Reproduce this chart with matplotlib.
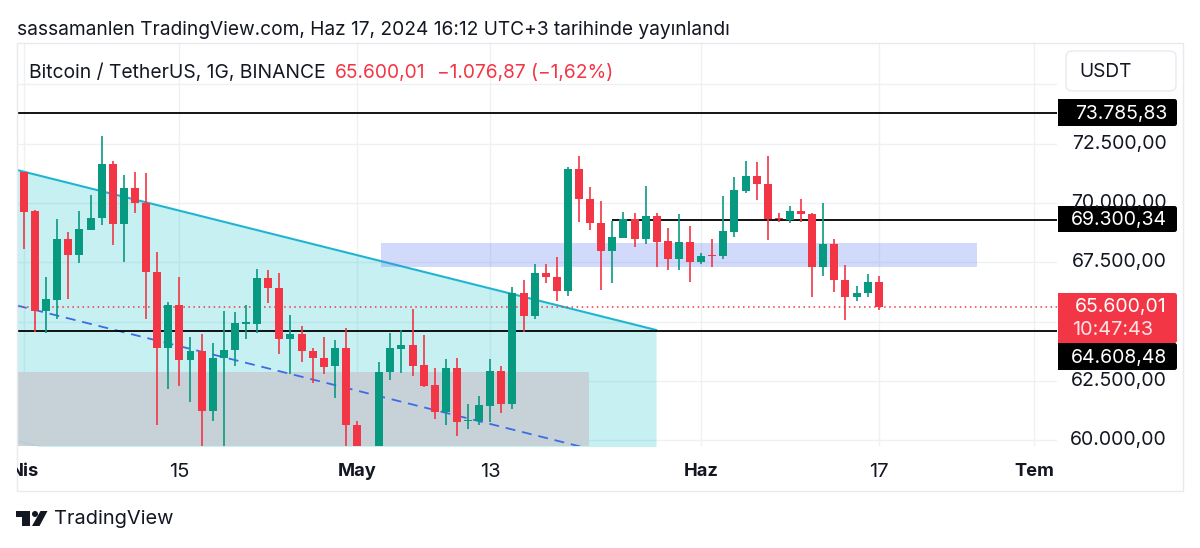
import matplotlib
matplotlib.use("Agg")
from matplotlib import pyplot as plt
from matplotlib.patches import FancyBboxPatch, Rectangle, Circle, Polygon
from matplotlib.transforms import Affine2D, Bbox, TransformedBbox

plt.rcParams['font.family'] = ['Inter', 'DejaVu Sans']

UP = '#089981'
DOWN = '#F23645'
INK = '#131722'
GRID = '#EEF0F3'

# daily candles, first one is Mar 31 (day -1), Apr 1 is day 0
opens = [69663, 71287, 69660, 65465, 65914, 68495, 67808, 68874, 69365, 71624,
         69127, 70628, 70011, 67092, 63908, 65689, 63402, 63781, 61256, 63473,
         63809, 64918, 64918, 66826, 66419, 64272, 64483, 63781, 63473, 63122,
         63879, 60667, 58363, 59163, 62883, 63866, 64006, 63164, 62322, 61186,
         63066, 60807, 60807, 61466, 62925, 61550, 66208, 65226, 67036, 66896,
         66278, 71442, 70151, 69169, 67962, 68537, 69323, 68467, 69435, 68383,
         67625, 68355, 67513, 67822, 67766, 68776, 70501, 71119, 70796, 69379,
         69281, 69646, 69547, 67289, 68256, 66755, 66040, 66208, 66657]
highs = [71429, 71315, 69702, 66896, 69309, 68762, 69674, 70333, 72817, 71750,
         71175, 71315, 71245, 67920, 65844, 66868, 64357, 64483, 64118, 65451,
         65395, 65703, 67233, 67176, 67064, 65297, 64834, 63908, 64357, 64230,
         64721, 60821, 59363, 63318, 64511, 64651, 65521, 64427, 63038, 63430,
         63473, 61522, 61887, 63430, 63136, 66447, 66756, 67443, 67415, 67724,
         71498, 71989, 70656, 70081, 69239, 69603, 69561, 70698, 69575, 68930,
         69519, 69028, 67906, 68467, 70291, 71077, 71750, 71722, 71989, 69575,
         69856, 70179, 69575, 69982, 68467, 67373, 66503, 66994, 66910]
lows = [69567, 68060, 64581, 64511, 65100, 65956, 67457, 68846, 69057, 68229,
        67527, 69590, 65114, 60653, 62154, 62294, 61621, 59263, 60807, 59063,
        63122, 64287, 64511, 65802, 63627, 62799, 63318, 62406, 62799, 61803,
        59063, 56663, 56963, 58863, 62546, 62855, 62715, 62266, 60919, 60639,
        60203, 60499, 60639, 60793, 61143, 61326, 64581, 65128, 66615, 65872,
        66082, 69211, 68860, 66349, 66615, 68509, 68130, 68285, 67289, 67162,
        67162, 66685, 67443, 67289, 67625, 68579, 70403, 70123, 68439, 69183,
        69155, 69183, 66054, 66924, 66250, 65072, 65858, 66054, 65493]
closes = [71363, 69632, 65465, 65942, 68495, 67808, 68888, 69379, 71624, 69127,
          70628, 70011, 67092, 63908, 65689, 63402, 63781, 61256, 63473, 63809,
          64932, 64974, 66826, 66405, 64287, 64497, 63767, 63459, 63108, 63879,
          60653, 58363, 59163, 62897, 63879, 64006, 63150, 62294, 61186, 63066,
          60779, 60863, 61480, 62925, 61550, 66208, 65226, 67036, 66896, 66278,
          71442, 70151, 69169, 67962, 68551, 69323, 68467, 69435, 68369, 67625,
          68355, 67527, 67780, 67780, 68804, 70529, 71119, 70782, 69323, 69337,
          69646, 69547, 67289, 68256, 66755, 66040, 66222, 66657, 65600]

days = list(range(-1, len(closes) - 1))

y_ticks = [60000, 62500, 65000, 67500, 70000, 72500, 75000]
y_labels = [60000, 62500, 67500, 70000, 72500]
time_ticks = [0, 14, 30, 42, 61, 77, 91]
time_labels = ['Nis', '15', 'May', '13', 'Haz', '17', 'Tem']
time_bold = [True, False, True, False, True, False, True]

levels = [73785.83, 69300.34, 64608.48]
level_starts = [-0.63, 53, -0.63]
last_price = 65600.01

x_range = (-0.63, 93.06)
y_range = (59768, 76731)
channel_days = [-0.63, 56.94]
channel_top = [71385, 64651]
channel_bottom = [59979, 53245]
gray_box = (-0.63, 50.9, 59768, 62896)
blue_box = (32.16, 85.86, 67315, 68325)

fig = plt.figure(figsize=(12, 5.48), dpi=100, facecolor='white')
pix = Affine2D().scale(1, -1).translate(0, 548)

ax = fig.add_axes([17 / 1200, (548 - 446) / 548, 1040 / 1200, 403 / 548])
ax.set_xlim(*x_range)
ax.set_ylim(*y_range)
for s in ax.spines.values():
    s.set_visible(False)
ax.tick_params(left=False, bottom=False, labelleft=False, labelbottom=False)
ax.set_xticks(time_ticks)
ax.set_yticks(y_ticks)
ax.grid(True, color=GRID, lw=1)
ax.set_axisbelow(True)

# drawings
ax.fill_between(channel_days, channel_top, channel_bottom, color='#22C4D0', alpha=0.25, lw=0, zorder=2)
ax.plot(channel_days, channel_top, color='#1FB5CF', lw=1.5, zorder=3)
ax.plot(channel_days, channel_bottom, color='#1FB5CF', lw=1.5, zorder=3)
channel_mid = [(a + b) / 2 for a, b in zip(channel_top, channel_bottom)]
ax.add_patch(Rectangle((gray_box[0], gray_box[2]), gray_box[1] - gray_box[0], gray_box[3] - gray_box[2],
                       color='#C8CFD6', alpha=0.92, lw=0, zorder=3))
ax.plot(channel_days, channel_mid, color='#3D6BE5', lw=1.3, ls=(0, (5.5, 3.8)), zorder=4)
ax.add_patch(Rectangle((blue_box[0], blue_box[2]), blue_box[1] - blue_box[0], blue_box[3] - blue_box[2],
                       color='#5B7CF0', alpha=0.28, lw=0, zorder=3))

for level, start in zip(levels, level_starts):
    ax.plot([start, x_range[1]], [level, level], color='black', lw=1.3, zorder=5, solid_capstyle='butt')
ax.axhline(last_price, color=DOWN, lw=1.1, ls=(0, (1, 2.3)), zorder=5)

# candles
colors = [UP if c >= o else DOWN for o, c in zip(opens, closes)]
ax.vlines(days, lows, highs, colors=colors, lw=1.2, zorder=6)
ax.bar(days, [abs(c - o) for o, c in zip(opens, closes)], bottom=[min(o, c) for o, c in zip(opens, closes)],
       width=0.72, color=colors, lw=0, zorder=7)

# frame
fig.add_artist(Rectangle((17, 43), 1166, 448, transform=pix, fill=False, ec='#E9EAEE', lw=1))

# header
fig.text(17, 30, 'sassamanlen TradingView.com, Haz 17, 2024 16:12 UTC+3 tarihinde yayınlandı',
         transform=pix, fontsize=13.8, color=INK, va='center')
fig.text(29, 73, 'Bitcoin / TetherUS, 1G, BINANCE', transform=pix, fontsize=13.9, color=INK, va='center')
fig.text(335, 73, '65.600,01', transform=pix, fontsize=13.8, color=DOWN, va='center')
fig.text(437, 73, '−1.076,87 (−1,62%)', transform=pix, fontsize=13.8, color=DOWN, va='center')

# price scale
def fmt(p):
    return f'{p:,.2f}'.replace(',', 'X').replace('.', ',').replace('X', '.')

def price_y(p):
    return 548 - ax.transData.transform((0, p))[1]

for price in y_labels:
    fig.text(1167, price_y(price), fmt(price), transform=pix, fontsize=14, color=INK, va='center', ha='right')

fig.add_artist(FancyBboxPatch((1066, 51), 110, 40, boxstyle='round,pad=0,rounding_size=6', transform=pix,
                              fc='white', ec='#E8EAF0', lw=1))
fig.text(1079, 72, 'USDT', transform=pix, fontsize=13.8, color=INK, va='center')


def price_box(y0, y1, color):
    fig.add_artist(FancyBboxPatch((1058, y0), 119, y1 - y0, boxstyle='round,pad=0,rounding_size=2.5', transform=pix,
                                  fc=color, ec='none'))
    fig.add_artist(Rectangle((1058, y0), 10, y1 - y0, transform=pix, fc=color, ec='none'))


price_box(99, 126, 'black')
price_box(206, 232, 'black')
price_box(293, 343, DOWN)
price_box(343, 370, 'black')
box_text_y = [113.5, 220, 357.5]
for level, y in zip(levels, box_text_y):
    t = fig.text(1167, y, fmt(level), transform=pix, fontsize=14, color='white', va='center', ha='right')
    t.set_zorder(5)
fig.text(1167, 307, fmt(last_price), transform=pix, fontsize=14, color='white', va='center', ha='right', zorder=5)
fig.text(1072, 330, '10:47:43', transform=pix, fontsize=14.3, color='#FFE3E5', va='center', zorder=5)

# time scale
clip = TransformedBbox(Bbox([[17 / 1200, 0], [1, 1]]), fig.transFigure)
for day, label, bold in zip(time_ticks, time_labels, time_bold):
    x = ax.transData.transform((day, 60000))[0]
    t = fig.text(x, 472, label, transform=pix, fontsize=13.2 if bold else 14.5, color=INK, va='center', ha='center',
                 fontweight='bold' if bold else 'normal')
    t.set_clip_box(clip)
    t.set_clip_on(True)

# logo
fig.add_artist(Polygon([(16, 511), (30, 511), (30, 526), (22, 526), (22, 517), (16, 517)], transform=pix, fc=INK, ec='none'))
fig.add_artist(Circle((35, 514), 3, transform=pix, fc=INK, ec='none'))
fig.add_artist(Polygon([(40.5, 511), (47.5, 511), (39.5, 526), (32, 526)], transform=pix, fc=INK, ec='none'))
fig.text(54, 519.5, 'TradingView', transform=pix, fontsize=14.4, color=INK, va='center')

fig.savefig('out.png', dpi=100, facecolor='white')
